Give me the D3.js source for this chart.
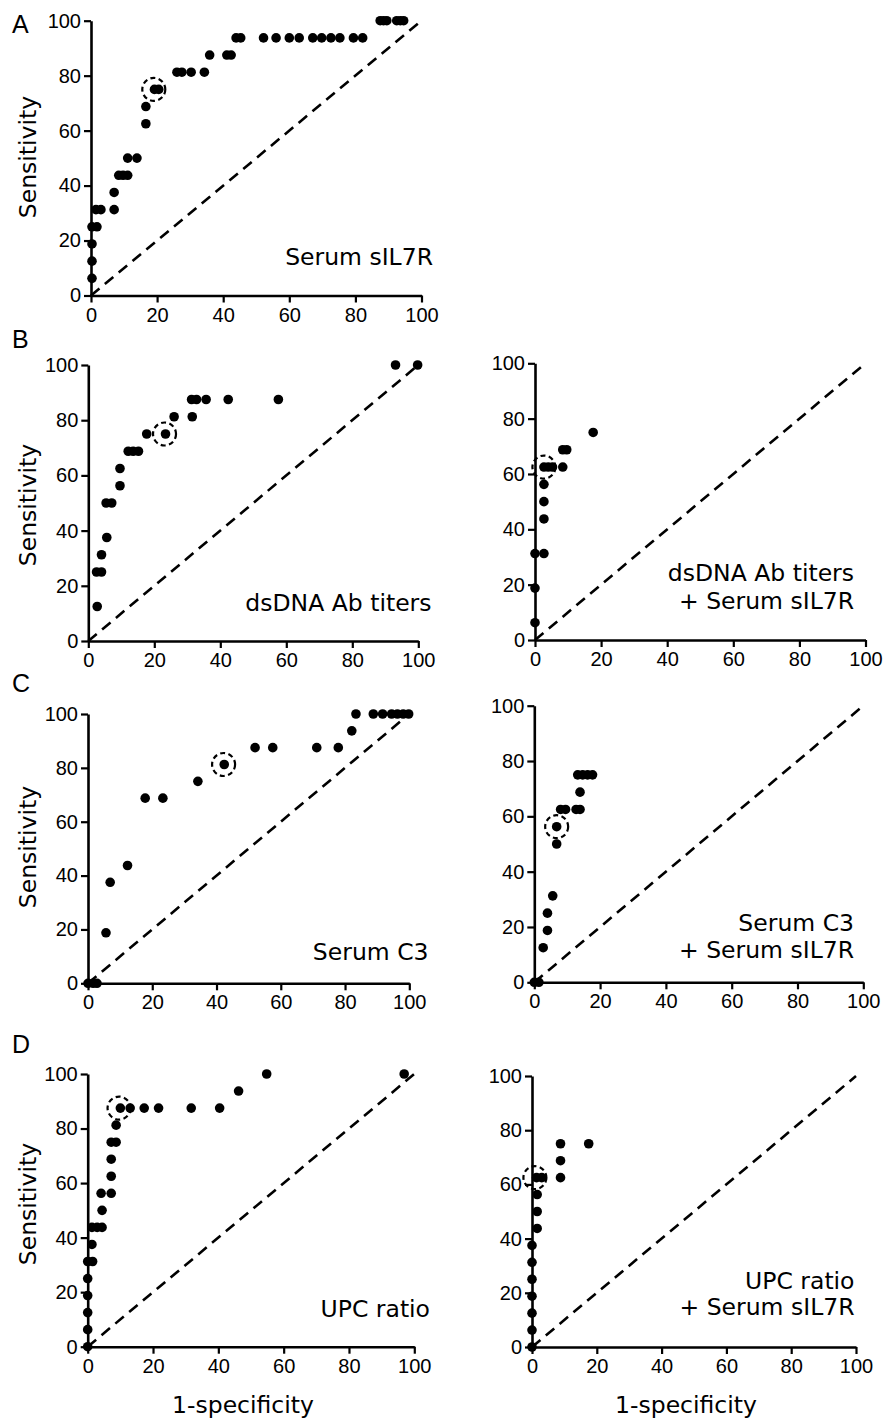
<!DOCTYPE html>
<html>
<head>
<meta charset="utf-8">
<script src="https://cdn.jsdelivr.net/npm/d3@7/dist/d3.min.js"></script>
<style>
  html, body { margin: 0; padding: 0; background: #fff; }
  svg { display: block; }
</style>
</head>
<body>
<svg id="chart" width="896" height="1421"></svg>
<script>
// ---------------- DATA (1-specificity %, sensitivity %) ----------------
const tickValues = [0, 20, 40, 60, 80, 100];
const panelLetters = ["A", "B", "C", "D"];
const xAxisTitle = "1-specificity";
const yAxisTitle = "Sensitivity";

const serumIL7R = [
  [0.3,6.25],[0.3,12.5],[0.3,18.75],[0.3,25],[1.8,25],[1.5,31.25],[3.0,31.25],[7.0,31.25],
  [7.0,37.5],[8.4,43.75],[9.7,43.75],[11.1,43.75],[11.1,50],[13.9,50],[16.6,62.5],[16.6,68.75],
  [19.2,75],[20.5,75],[26.0,81.25],[27.5,81.25],[30.3,81.25],[34.3,81.25],[35.9,87.5],[41.1,87.5],
  [42.4,87.5],[43.9,93.75],[45.3,93.75],[52.2,93.75],[56.0,93.75],[60.0,93.75],[63.0,93.75],
  [67.1,93.75],[69.8,93.75],[72.6,93.75],[75.3,93.75],[79.4,93.75],[82.2,93.75],
  [87.5,100],[88.5,100],[89.5,100],[92.5,100],[93.6,100],[94.6,100]
];
const serumIL7RCut = [19, 75];

const dsDNA = [
  [2.7,12.5],[2.5,25],[4.0,25],[4.0,31.25],[5.6,37.5],[5.4,50],[7.1,50],[9.6,56.25],[9.6,62.5],
  [12.1,68.75],[13.6,68.75],[15.2,68.75],[17.7,75],[23.4,75],[26.0,81.25],[31.5,81.25],
  [31.3,87.5],[32.8,87.5],[35.7,87.5],[42.4,87.5],[57.6,87.5],[93.1,100],[99.8,100]
];
const dsDNACut = [23.1, 75];

const dsDNAplusIL7R = [
  [0,6.25],[0,18.75],[0,31.25],[2.7,31.25],[2.7,43.75],[2.7,50],[2.7,56.25],[2.7,62.5],
  [4.0,62.5],[5.3,62.5],[8.4,62.5],[8.4,68.75],[9.6,68.75],[17.6,75]
];
const dsDNAplusIL7RCut = [2.7, 62.5];

const serumC3 = [
  [0,0],[1.6,0],[2.8,0],[5.6,18.75],[6.9,37.5],[12.3,43.75],[17.8,68.75],[23.3,68.75],
  [34.2,75],[42.4,81.25],[52.0,87.5],[57.5,87.5],[71.2,87.5],[77.9,87.5],[82.1,93.75],
  [83.4,100],[88.8,100],[91.7,100],[94.5,100],[96.3,100],[98.1,100],[99.8,100]
];
const serumC3Cut = [42.2, 81.25];

const serumC3plusIL7R = [
  [0,0],[1.4,0],[2.7,12.5],[4.0,18.75],[4.0,25],[5.6,31.25],[6.8,50],[6.8,56.25],
  [8.0,62.5],[9.5,62.5],[12.7,62.5],[13.9,62.5],[13.9,68.75],[13.2,75],[14.7,75],[16.2,75],[17.7,75]
];
const serumC3plusIL7RCut = [6.8, 56.25];

const upc = [
  [0,0],[0,6.25],[0,12.5],[0,18.75],[0,25],[0,31.25],[1.5,31.25],[1.3,37.5],[1.3,43.75],
  [2.9,43.75],[4.4,43.75],[4.4,50],[4.1,56.25],[7.2,56.25],[7.2,62.5],[7.2,68.75],[7.2,75],
  [8.7,75],[8.7,81.25],[10.0,87.5],[13.0,87.5],[17.3,87.5],[21.7,87.5],[31.7,87.5],[40.4,87.5],
  [46.2,93.75],[54.8,100],[96.9,100]
];
const upcCut = [9.6, 87.5];

const upcPlusIL7R = [
  [0,0],[0,6.25],[0,12.5],[0,18.75],[0,25],[0,31.25],[0,37.5],[1.6,43.75],[1.6,50],[1.6,56.25],
  [1.4,62.5],[3.0,62.5],[8.8,62.5],[8.8,68.75],[8.8,75],[17.5,75]
];
const upcPlusIL7RCut = [0.9, 62.5];

const labelA = ["Serum sIL7R"];
const labelBL = ["dsDNA Ab titers"];
const labelBR = ["dsDNA Ab titers", "+ Serum sIL7R"];
const labelCL = ["Serum C3"];
const labelCR = ["Serum C3", "+ Serum sIL7R"];
const labelDL = ["UPC ratio"];
const labelDR = ["UPC ratio", "+ Serum sIL7R"];

// ---------------- LAYOUT ----------------
const panels = [
  { pts: serumIL7R, cut: serumIL7RCut, text: labelA, x0: 91, x1: 421.5, y0: 295.5, y1: 20.7,
    textX: 433, textY: [265], yTitle: true, yTitleC: 157, letter: "A", letterY: 33 },
  { pts: dsDNA, cut: dsDNACut, text: labelBL, x0: 88.3, x1: 418.3, y0: 641, y1: 365,
    textX: 431.5, textY: [611], yTitle: true, yTitleC: 505, letter: "B", letterY: 348 },
  { pts: dsDNAplusIL7R, cut: dsDNAplusIL7RCut, text: labelBR, x0: 535, x1: 865.5, y0: 640, y1: 363.3,
    textX: 854, textY: [581, 608.5] },
  { pts: serumC3, cut: serumC3Cut, text: labelCL, x0: 88, x1: 409.3, y0: 983.3, y1: 714,
    textX: 428.5, textY: [960], yTitle: true, yTitleC: 847, letter: "C", letterY: 691.5 },
  { pts: serumC3plusIL7R, cut: serumC3plusIL7RCut, text: labelCR, x0: 534.3, x1: 863.3, y0: 982.3, y1: 705.7,
    textX: 854, textY: [930.5, 957.5] },
  { pts: upc, cut: upcCut, text: labelDL, x0: 87.7, x1: 414.3, y0: 1346.7, y1: 1074,
    textX: 430, textY: [1316.5], yTitle: true, yTitleC: 1204, letter: "D", letterY: 1053.3, xTitle: true },
  { pts: upcPlusIL7R, cut: upcPlusIL7RCut, text: labelDR, x0: 532, x1: 856, y0: 1347, y1: 1076,
    textX: 854.5, textY: [1288.5, 1315], xTitle: true }
];

const svg = d3.select("#chart");
const tickFont = "'Liberation Sans', Arial, sans-serif";
const textFont = "'DejaVu Sans', 'Lucida Grande', sans-serif";

panels.forEach(p => {
  const x = d3.scaleLinear().domain([0, 100]).range([p.x0, p.x1]);
  const y = d3.scaleLinear().domain([0, 100]).range([p.y0, p.y1]);
  const g = svg.append("g");

  // diagonal reference line
  g.append("line")
    .attr("x1", x(0)).attr("y1", y(0))
    .attr("x2", x(100)).attr("y2", y(100))
    .attr("stroke", "#000").attr("stroke-width", 2.6)
    .attr("stroke-dasharray", "11,7");

  // axes
  const xAxis = d3.axisBottom(x).tickValues(tickValues).tickSize(7).tickSizeOuter(0).tickPadding(5);
  const yAxis = d3.axisLeft(y).tickValues(tickValues).tickSize(7).tickSizeOuter(0).tickPadding(3);
  const gx = g.append("g").attr("transform", `translate(0,${p.y0})`).call(xAxis);
  const gy = g.append("g").attr("transform", `translate(${p.x0},0)`).call(yAxis);
  [gx, gy].forEach(a => {
    a.select(".domain").attr("stroke", "#000").attr("stroke-width", 2.6);
    a.selectAll(".tick line").attr("stroke", "#000").attr("stroke-width", 2.2);
    a.selectAll(".tick text").attr("fill", "#000")
      .style("font-family", tickFont).style("font-size", "20px");
  });

  // data points
  g.selectAll("circle.pt").data(p.pts).enter().append("circle")
    .attr("class", "pt")
    .attr("cx", d => x(d[0])).attr("cy", d => y(d[1]))
    .attr("r", 4.8).attr("fill", "#000");

  // optimal cutoff highlight
  g.append("circle")
    .attr("cx", x(p.cut[0])).attr("cy", y(p.cut[1]))
    .attr("r", 11.5).attr("fill", "none")
    .attr("stroke", "#000").attr("stroke-width", 2.2)
    .attr("stroke-dasharray", "5,3.4");

  // annotation text
  p.text.forEach((t, i) => {
    g.append("text").text(t)
      .attr("x", p.textX).attr("y", p.textY[i])
      .attr("text-anchor", "end")
      .style("font-family", textFont).style("font-size", "23.5px").attr("fill", "#000");
  });

  if (p.yTitle) {
    g.append("text").text(yAxisTitle)
      .attr("transform", `translate(36,${p.yTitleC}) rotate(-90)`)
      .attr("text-anchor", "middle")
      .style("font-family", textFont).style("font-size", "23.5px").attr("fill", "#000");
  }
  if (p.letter) {
    g.append("text").text(p.letter)
      .attr("x", 12).attr("y", p.letterY)
      .style("font-family", tickFont).style("font-size", "25px").attr("fill", "#000");
  }
  if (p.xTitle) {
    g.append("text").text(xAxisTitle)
      .attr("x", (p.x0 + p.x1) / 2 - 8).attr("y", 1413)
      .attr("text-anchor", "middle")
      .style("font-family", textFont).style("font-size", "23.5px").attr("fill", "#000");
  }
});
</script>
</body>
</html>
